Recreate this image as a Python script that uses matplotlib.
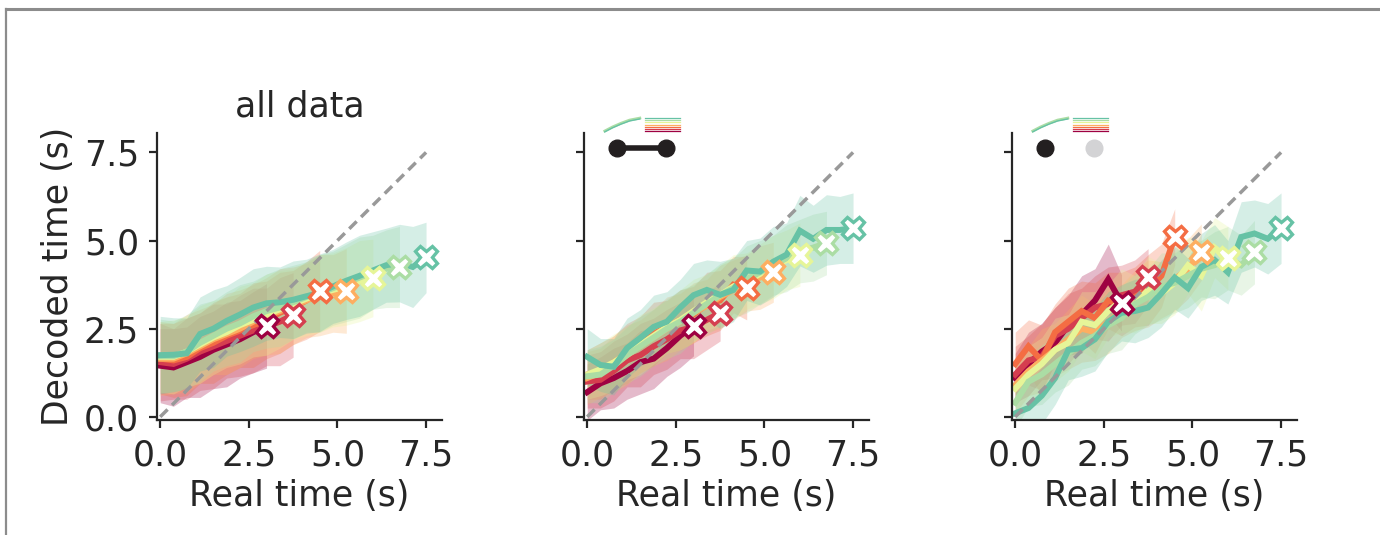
import matplotlib
matplotlib.use("Agg")
import matplotlib.pyplot as plt
from matplotlib.lines import Line2D
import numpy as np

plt.rcParams['font.family'] = 'DejaVu Sans'
plt.rcParams['font.size'] = 25
plt.rcParams['text.color'] = '#262626'
plt.rcParams['axes.labelcolor'] = '#262626'
plt.rcParams['xtick.color'] = '#262626'
plt.rcParams['ytick.color'] = '#262626'

# one colour per interval length, shortest (dark red) to longest (teal)
colors = ['#9e0142', '#d53e4f', '#f46d43', '#fdae61', '#e6f598', '#abdda4', '#66c2a5']
end_times = [3.0, 3.75, 4.5, 5.25, 6.0, 6.75, 7.5]
dt = 0.375

# mean decoded time per condition
mean_all = [
    [1.45, 1.4, 1.55, 1.7, 1.9, 2.05, 2.2, 2.4, 2.58],
    [1.55, 1.5, 1.65, 1.85, 2.0, 2.15, 2.3, 2.45, 2.55, 2.7, 2.89],
    [1.65, 1.6, 1.7, 1.95, 2.1, 2.3, 2.45, 2.6, 2.75, 2.95, 3.1, 3.3, 3.57],
    [1.65, 1.65, 1.8, 2.0, 2.2, 2.35, 2.5, 2.7, 2.85, 3.0, 3.15, 3.3, 3.45, 3.5, 3.57],
    [1.7, 1.7, 1.85, 2.05, 2.25, 2.4, 2.6, 2.75, 2.9, 3.05, 3.2, 3.35, 3.5, 3.6, 3.7, 3.85, 3.94],
    [1.72, 1.72, 1.85, 2.1, 2.3, 2.5, 2.65, 2.85, 3.0, 3.1, 3.25, 3.4, 3.5, 3.65, 3.8, 3.95, 4.1, 4.2, 4.25],
    [1.75, 1.76, 1.8, 2.35, 2.5, 2.72, 2.9, 3.1, 3.22, 3.25, 3.32, 3.42, 3.52, 3.7, 3.86, 4.0, 4.15, 4.3, 4.36, 4.25, 4.52],
]
mean_both = [
    [0.7, 0.95, 1.1, 1.3, 1.55, 1.65, 1.95, 2.3, 2.58],
    [1.0, 1.05, 1.3, 1.6, 1.75, 2.0, 2.2, 2.45, 2.55, 2.75, 2.95],
    [1.2, 1.3, 1.55, 1.8, 2.05, 2.35, 2.55, 2.75, 2.9, 3.2, 3.3, 3.75, 3.65],
    [1.1, 1.25, 1.5, 1.75, 2.0, 2.25, 2.5, 2.7, 2.95, 3.15, 3.4, 3.6, 3.8, 3.95, 4.1],
    [1.2, 1.35, 1.55, 1.8, 2.05, 2.3, 2.55, 2.75, 3.0, 3.25, 3.45, 3.7, 3.85, 4.05, 4.25, 4.45, 4.6],
    [1.15, 1.2, 1.45, 1.75, 2.0, 2.25, 2.5, 2.7, 2.95, 3.2, 3.45, 3.65, 3.9, 4.1, 4.3, 4.5, 4.7, 4.8, 4.93],
    [1.7, 1.47, 1.42, 1.95, 2.24, 2.55, 2.7, 3.1, 3.45, 3.6, 3.46, 3.6, 4.15, 4.12, 4.4, 4.6, 5.28, 5.05, 5.3, 5.3, 5.35],
]
mean_first = [
    [1.1, 1.5, 1.85, 2.1, 2.6, 2.9, 3.3, 3.9, 3.23],
    [1.2, 1.6, 1.7, 2.3, 2.5, 2.8, 3.1, 3.2, 3.45, 3.55, 3.97],
    [1.5, 2.0, 1.6, 2.4, 2.7, 3.0, 2.8, 3.3, 3.2, 3.4, 3.6, 4.0, 5.1],
    [0.9, 1.3, 1.6, 1.9, 2.2, 2.5, 2.4, 2.7, 3.0, 3.3, 3.5, 3.6, 3.9, 4.2, 4.67],
    [0.8, 1.2, 1.5, 1.9, 2.1, 2.7, 2.6, 3.0, 3.3, 3.2, 3.6, 3.5, 3.8, 4.3, 4.0, 4.8, 4.5],
    [0.4, 1.0, 1.2, 1.5, 1.8, 2.1, 2.3, 2.6, 2.8, 3.2, 3.4, 3.7, 3.8, 4.0, 4.2, 4.3, 4.5, 4.3, 4.67],
    [0.1, 0.25, 0.6, 1.1, 1.9, 1.95, 2.2, 2.7, 2.95, 3.0, 3.1, 3.5, 3.95, 3.65, 4.25, 4.45, 4.1, 5.1, 5.2, 5.05, 5.35],
]

# half-width of the shaded band around each mean
spread_all = [
    [1.05, 1.1, 1.0, 1.15, 1.1, 1.2, 1.1, 1.15, 1.2],
    [1.1, 1.0, 1.15, 1.1, 1.2, 1.05, 1.15, 1.2, 1.1, 1.25, 1.2],
    [1.0, 1.05, 1.1, 1.0, 1.15, 1.1, 1.05, 1.2, 1.1, 1.15, 1.05, 1.1, 1.15],
    [1.05, 1.0, 1.1, 1.05, 1.0, 1.15, 1.1, 1.05, 1.1, 1.2, 1.1, 1.05, 1.15, 1.1, 1.2],
    [1.0, 1.05, 1.0, 1.1, 1.05, 1.0, 1.1, 1.05, 1.15, 1.1, 1.0, 1.05, 1.1, 1.05, 1.1, 1.15, 1.1],
    [1.05, 1.0, 1.05, 1.1, 1.0, 1.05, 1.1, 1.0, 1.05, 1.1, 1.05, 1.0, 1.1, 1.05, 1.1, 1.15, 1.05, 1.1, 1.15],
    [1.1, 1.05, 1.0, 1.05, 1.1, 1.0, 1.05, 1.1, 1.05, 1.0, 1.1, 1.05, 1.1, 1.05, 1.1, 1.15, 1.1, 1.05, 1.1, 1.15, 1.0],
]
spread_both = [
    [0.8, 0.75, 0.85, 0.8, 0.9, 0.85, 0.8, 0.9, 0.85],
    [0.75, 0.8, 0.85, 0.75, 0.9, 0.8, 0.85, 0.8, 0.9, 0.85, 0.8],
    [0.7, 0.8, 0.75, 0.85, 0.8, 0.9, 0.75, 0.85, 0.8, 0.9, 0.85, 0.8, 0.9],
    [0.75, 0.7, 0.8, 0.85, 0.75, 0.8, 0.9, 0.8, 0.85, 0.75, 0.9, 0.85, 0.8, 0.9, 0.85],
    [0.7, 0.75, 0.8, 0.75, 0.85, 0.8, 0.75, 0.85, 0.9, 0.8, 0.85, 0.9, 0.8, 0.85, 0.9, 0.85, 0.9],
    [0.75, 0.8, 0.75, 0.8, 0.85, 0.8, 0.85, 0.9, 0.8, 0.85, 0.9, 0.85, 0.95, 0.9, 0.85, 0.95, 0.9, 0.95, 0.9],
    [0.8, 0.75, 0.8, 0.85, 0.8, 0.9, 0.85, 0.8, 0.9, 0.85, 0.95, 0.9, 0.85, 0.95, 1.0, 0.9, 1.0, 0.95, 1.0, 0.95, 1.0],
]
spread_first = [
    [0.7, 0.9, 0.8, 1.0, 0.85, 1.1, 0.9, 1.0, 0.8],
    [0.8, 0.7, 0.95, 0.8, 1.0, 0.85, 0.9, 1.05, 0.85, 0.9, 0.8],
    [0.9, 0.75, 1.0, 0.8, 0.95, 0.85, 1.0, 0.8, 0.9, 0.85, 1.0, 0.9, 0.8],
    [0.8, 0.7, 0.9, 0.75, 0.85, 0.95, 0.8, 0.9, 0.75, 0.85, 0.95, 0.8, 0.9, 0.85, 0.8],
    [0.7, 0.8, 0.75, 0.9, 0.8, 0.85, 0.95, 0.75, 0.9, 0.8, 0.95, 0.85, 0.9, 0.8, 1.0, 0.85, 0.9],
    [0.75, 0.7, 0.85, 0.8, 0.9, 0.75, 0.85, 0.8, 0.9, 0.85, 0.8, 0.95, 0.85, 0.9, 0.8, 0.95, 0.9, 0.85, 0.9],
    [0.6, 0.7, 0.8, 0.75, 0.85, 0.8, 0.9, 0.85, 0.8, 0.9, 0.85, 0.95, 0.9, 0.85, 0.95, 1.0, 0.9, 1.0, 0.95, 1.0, 1.0],
]

ticks = [0.0, 2.5, 5.0, 7.5]
tick_labels = ['0.0', '2.5', '5.0', '7.5']

# little trajectory icon drawn above panels 2 and 3 (axes fraction)
icon_x = [0.073, 0.10, 0.13, 0.16, 0.196]
icon_y = [1.007, 1.021, 1.034, 1.045, 1.052]

fig = plt.figure(figsize=(13.8, 5.35), dpi=100)

# thin grey frame along the top and left edge
fig.add_artist(Line2D([6 / 1380, 1.0], [1 - 9 / 535, 1 - 9 / 535], transform=fig.transFigure,
                      color='#8c8c8c', lw=2.2))
fig.add_artist(Line2D([6 / 1380, 6 / 1380], [0.0, 1 - 9 / 535], transform=fig.transFigure,
                      color='#8c8c8c', lw=1.6))

lefts = [157, 584, 1012]
panels = [(mean_all, spread_all), (mean_both, spread_both), (mean_first, spread_first)]
axes = []
for k, (means, spreads) in enumerate(panels):
    ax = fig.add_axes([lefts[k] / 1380, 115 / 535, 285 / 1380, 287 / 535])
    axes.append(ax)
    for c, m, s, end in zip(colors, means, spreads, end_times):
        t = np.arange(len(m)) * dt
        m = np.array(m)
        s = np.array(s)
        ax.fill_between(t, m - s, m + s, color=c, alpha=0.27, lw=0, zorder=1)
    for c, m, end in zip(colors, means, end_times):
        t = np.arange(len(m)) * dt
        ax.plot(t, m, color=c, lw=4.3, zorder=2, solid_joinstyle='miter')
    ax.plot([0, 7.5], [0, 7.5], ls=(0, (3, 1.8)), color='#999999', lw=2.5, zorder=3)
    for c, m, end in zip(colors, means, end_times):
        ax.plot(end, m[-1], marker='X', ms=16, mfc='white', mec=c, mew=2.4, zorder=4)

    ax.set_xlim(-0.09, 7.95)
    ax.set_ylim(-0.09, 8.05)
    ax.set_xticks(ticks)
    ax.set_xticklabels(tick_labels)
    ax.set_yticks(ticks)
    ax.set_yticklabels(tick_labels if k == 0 else [])
    for side in ['top', 'right']:
        ax.spines[side].set_visible(False)
    for side in ['left', 'bottom']:
        ax.spines[side].set_linewidth(1.6)
        ax.spines[side].set_color('#262626')
    ax.tick_params(length=6, width=1.6, labelsize=25, pad=7)
    ax.set_xlabel('Real time (s)', fontsize=25, labelpad=5)

axes[0].set_ylabel('Decoded time (s)', fontsize=25, labelpad=6)
axes[0].set_title('all data', fontsize=25, pad=12)

for k, ax in enumerate(axes[1:]):
    ax.plot(icon_x, icon_y, color='#abdda4', lw=2.0, transform=ax.transAxes, clip_on=False)
    ax.plot(icon_x, [v - 0.003 for v in icon_y], color='#66c2a5', lw=1.0,
            transform=ax.transAxes, clip_on=False)
    levels = np.linspace(1.052, 1.007, len(colors))
    for c, yv in zip(colors[::-1], levels):
        ax.plot([0.214, 0.336], [yv, yv], color=c, lw=0.9, transform=ax.transAxes, clip_on=False)
    if k == 0:
        ax.plot([0.115, 0.287], [0.948, 0.948], color='#231f20', lw=4, marker='o', ms=12,
                transform=ax.transAxes, clip_on=False)
    else:
        ax.plot(0.115, 0.948, marker='o', ms=12, color='#231f20', transform=ax.transAxes, clip_on=False)
        ax.plot(0.287, 0.948, marker='o', ms=12, color='#d3d3d5', transform=ax.transAxes, clip_on=False)

fig.savefig('out.png', dpi=100)
